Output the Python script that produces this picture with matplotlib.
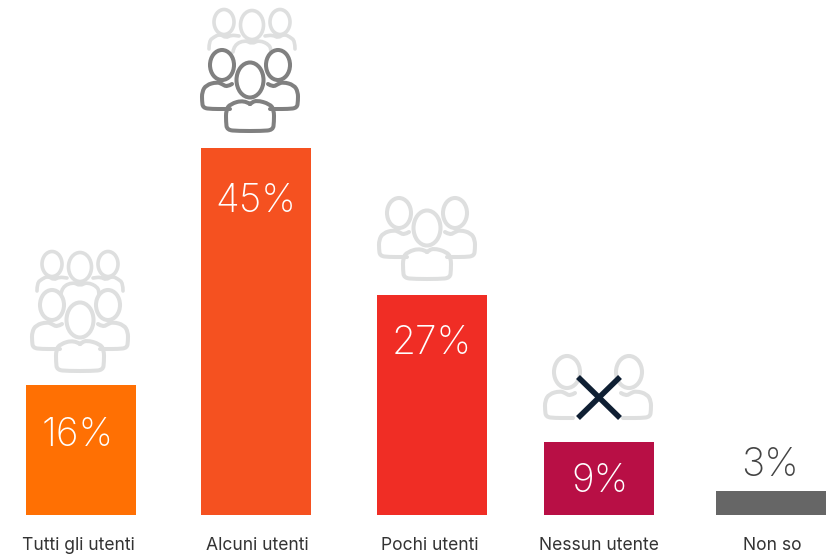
import matplotlib
matplotlib.use('Agg')
from matplotlib import pyplot as plt
from matplotlib.patches import Ellipse, PathPatch
from matplotlib.path import Path

categories = ['Tutti gli utenti', 'Alcuni utenti', 'Pochi utenti', 'Nessun utente', 'Non so']
values = [16, 45, 27, 9, 3]
bar_colors = ['#FF7003', '#F55120', '#F02D25', '#B80F45', '#666666']
value_colors = ['white', 'white', 'white', 'white', '#444444']

# layout, in pixels
bar_centers = [81, 256, 432, 599, 771]
label_centers = [78, 257, 430, 599, 772]
value_centers = [78, 256, 432, 600, 770]
value_rows = [435, 201, 344, 481, 466]
BAR_WIDTH = 110

LIGHT = '#DEDFDF'
DARK = '#808080'
NAVY = '#0F1F33'

plt.rcParams['font.family'] = ['Inter', 'DejaVu Sans']

fig = plt.figure(figsize=(8.3, 5.54), dpi=100)

# bars: x in pixels, y in percent, baseline at row 515 and 45% at row 148
ax = fig.add_axes([0, (554 - 515) / 554, 1, (515 - 148) / 554])
ax.set_xlim(0, 830)
ax.set_ylim(0, 45)
ax.axis('off')
ax.bar(bar_centers, values, width=BAR_WIDTH, color=bar_colors)

# overlay in pixel coordinates for the icons and text
over = fig.add_axes([0, 0, 1, 1])
over.set_xlim(0, 830)
over.set_ylim(554, 0)
over.axis('off')
over.patch.set_alpha(0)


def stroke(pts, color, lw):
    # smooth open curve through the midpoints of the control polygon
    verts = [pts[0]]
    codes = [Path.MOVETO]
    for a, b in zip(pts[1:-1], pts[2:]):
        verts += [a, ((a[0] + b[0]) / 2, (a[1] + b[1]) / 2)]
        codes += [Path.CURVE3, Path.CURVE3]
    verts.append(pts[-1])
    codes.append(Path.LINETO)
    over.add_patch(PathPatch(Path(verts, codes), fill=False, edgecolor=color, lw=lw, capstyle='round'))


def head(x, y, rx, ry, color, lw):
    over.add_patch(Ellipse((x, y), 2 * rx, 2 * ry, fill=False, edgecolor=color, lw=lw))


def offset(pts, x, y):
    return [(x + a, y + b) for a, b in pts]


def mirror(pts):
    return [(-a, b) for a, b in pts]


# body outlines are relative to the head centre
CENTER_BODY = [(0, 24), (-6, 20), (-20, 24), (-24, 30), (-24, 42), (-23, 50), (-12, 51), (12, 51), (23, 50), (24, 42),
               (24, 30), (20, 24), (6, 20), (0, 24)]
SIDE_BODY = [(10, 19), (5, 22), (0, 19), (-5, 17), (-16, 20), (-20, 27), (-20, 36), (-19, 43), (-10, 44), (2, 44),
             (8, 44)]
BACK_CENTER = [(-19, 27), (-18, 20), (-7, 15), (0, 19), (7, 15), (18, 20), (19, 27)]
BACK_SIDE = [(-15, 27), (-15, 19), (-10, 15), (-4, 12), (2, 16), (7, 13), (15, 14)]


def person_group(x, y, color, lw=2.9):
    # one person in front of two others, who are cut off behind them
    head(x, y, 13.5, 17.5, color, lw)
    stroke(offset(CENTER_BODY, x, y), color, lw)
    head(x - 28, y - 15, 12, 15, color, lw)
    stroke(offset(SIDE_BODY, x - 28, y - 15), color, lw)
    head(x + 28, y - 15, 12, 15, color, lw)
    stroke(offset(mirror(SIDE_BODY), x + 28, y - 15), color, lw)


def back_row(x, y, color, lw=2.6):
    # three heads with only the top of the shoulders showing
    head(x, y, 11.5, 14.5, color, lw)
    stroke(offset(BACK_CENTER, x, y), color, lw)
    head(x - 28, y - 3, 10, 12.5, color, lw)
    stroke(offset(BACK_SIDE, x - 28, y - 3), color, lw)
    head(x + 28, y - 3, 10, 12.5, color, lw)
    stroke(offset(mirror(BACK_SIDE), x + 28, y - 3), color, lw)


back_row(80, 267, LIGHT)
person_group(80, 320, LIGHT)
back_row(252, 25, LIGHT)
person_group(250, 80, DARK)
person_group(427, 228, LIGHT)

# two people crossed out
head(567, 372, 13, 16, LIGHT, 2.9)
stroke(offset(SIDE_BODY, 565, 374), LIGHT, 2.9)
head(629, 372, 13, 16, LIGHT, 2.9)
stroke(offset(mirror(SIDE_BODY), 631, 374), LIGHT, 2.9)
over.plot([578, 620], [377, 418], color=NAVY, lw=4, solid_capstyle='butt')
over.plot([620, 578], [377, 418], color=NAVY, lw=4, solid_capstyle='butt')

for name, cx in zip(categories, label_centers):
    over.text(cx, 545, name, ha='center', va='center', fontsize=12.6, color='#333333')

for val, cx, cy, col in zip(values, value_centers, value_rows, value_colors):
    over.text(cx, cy, f'{val}%', ha='center', va='center', fontsize=28, color=col, fontweight='light')

fig.savefig('out.png', dpi=100)
